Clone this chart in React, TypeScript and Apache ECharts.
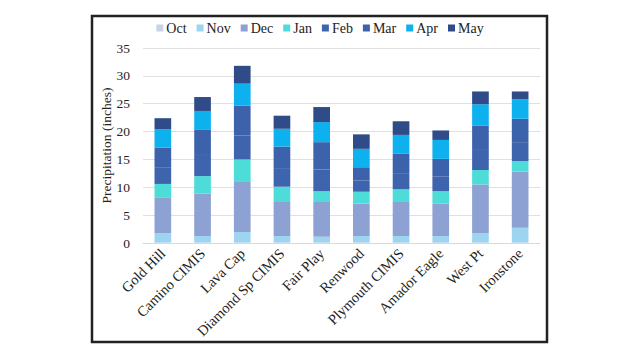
import React, { useEffect, useRef } from "react";
import * as echarts from "echarts";

const categories = ["Gold Hill", "Camino CIMIS", "Lava Cap", "Diamond Sp CIMIS", "Fair Play", "Renwood", "Plymouth CIMIS", "Amador Eagle", "West Pt", "Ironstone"];
const months = ["Oct", "Nov", "Dec", "Jan", "Feb", "Mar", "Apr", "May"];
const octVals = [0.1, 0.1, 0.1, 0.1, 0.1, 0.1, 0.1, 0.1, 0.1, 0.1];
const novVals = [1.64, 1.16, 1.87, 1.16, 1.03, 1.16, 1.16, 1.16, 1.64, 2.65];
const decVals = [6.36, 7.59, 8.98, 6.1, 6.23, 5.8, 6.1, 5.84, 8.76, 10.05];
const janVals = [2.5, 3.15, 4.05, 2.74, 1.94, 2.14, 2.28, 2.2, 2.6, 1.9];
const febVals = [2.9, 3.8, 4.3, 3.2, 3.9, 2.0, 2.9, 2.6, 3.6, 3.4];
const marVals = [3.6, 4.6, 5.35, 4.0, 4.9, 2.4, 3.46, 3.2, 4.4, 4.2];
const aprVals = [3.3, 3.3, 3.95, 3.2, 3.6, 3.3, 3.4, 3.4, 3.8, 3.5];
const mayVals = [2.0, 2.5, 3.2, 2.35, 2.7, 2.6, 2.45, 1.7, 2.3, 1.4];
const yTicks = { min: 0, max: 35, interval: 5 };

const seriesData = [octVals, novVals, decVals, janVals, febVals, marVals, aprVals, mayVals];
const colors = ["#C9D3E6", "#9DD5F1", "#8EA1D3", "#4EDCD8", "#3F64AE", "#3D62AC", "#0CB1EE", "#2F4B88"];

export default function App() {
  const ref = useRef<HTMLDivElement>(null);
  useEffect(() => {
    const chart = echarts.init(ref.current!, null, { renderer: "svg" });
    const font = "'Liberation Serif', 'Times New Roman', serif";
    chart.setOption({
      animation: false,
      backgroundColor: "#fff",
      color: colors,
      textStyle: { fontFamily: font },
      graphic: [
        {
          type: "rect",
          shape: { x: 92, y: 16, width: 455, height: 326 },
          style: { fill: "none", stroke: "#222", lineWidth: 2.5 },
          silent: true,
        },
      ],
      legend: {
        top: 16,
        left: "center",
        itemWidth: 7,
        itemHeight: 7,
        itemGap: 10,
        icon: "rect",
        textStyle: { fontFamily: font, fontSize: 14, color: "#222", padding: [0, 0, 0, -2] },
        data: months,
      },
      grid: { left: 143, right: 100, top: 48, bottom: 117 },
      xAxis: {
        type: "category",
        data: categories,
        axisTick: { show: false },
        axisLine: { lineStyle: { color: "#d9d9d9" } },
        axisLabel: { rotate: 45, fontFamily: font, fontSize: 14.5, color: "#222", margin: 8, interval: 0 },
      },
      yAxis: {
        type: "value",
        min: yTicks.min,
        max: yTicks.max,
        interval: yTicks.interval,
        name: "Precipitation (inches)",
        nameLocation: "middle",
        nameGap: 30,
        nameMoveOverlap: false,
        nameTextStyle: { fontFamily: font, fontSize: 13.5, color: "#222" },
        axisLine: { show: false },
        axisTick: { show: false },
        splitLine: { lineStyle: { color: "#e0e0e0" } },
        axisLabel: { fontFamily: font, fontSize: 13.5, color: "#222", margin: 13 },
      },
      series: months.map((m, i) => ({
        name: m,
        type: "bar",
        stack: "total",
        barWidth: "42%",
        data: seriesData[i],
      })),
    });
    return () => chart.dispose();
  }, []);
  return (
    <div
      ref={ref}
      style={{ width: 640, height: 360, position: "absolute", left: 0, top: 0 }}
    />
  );
}
